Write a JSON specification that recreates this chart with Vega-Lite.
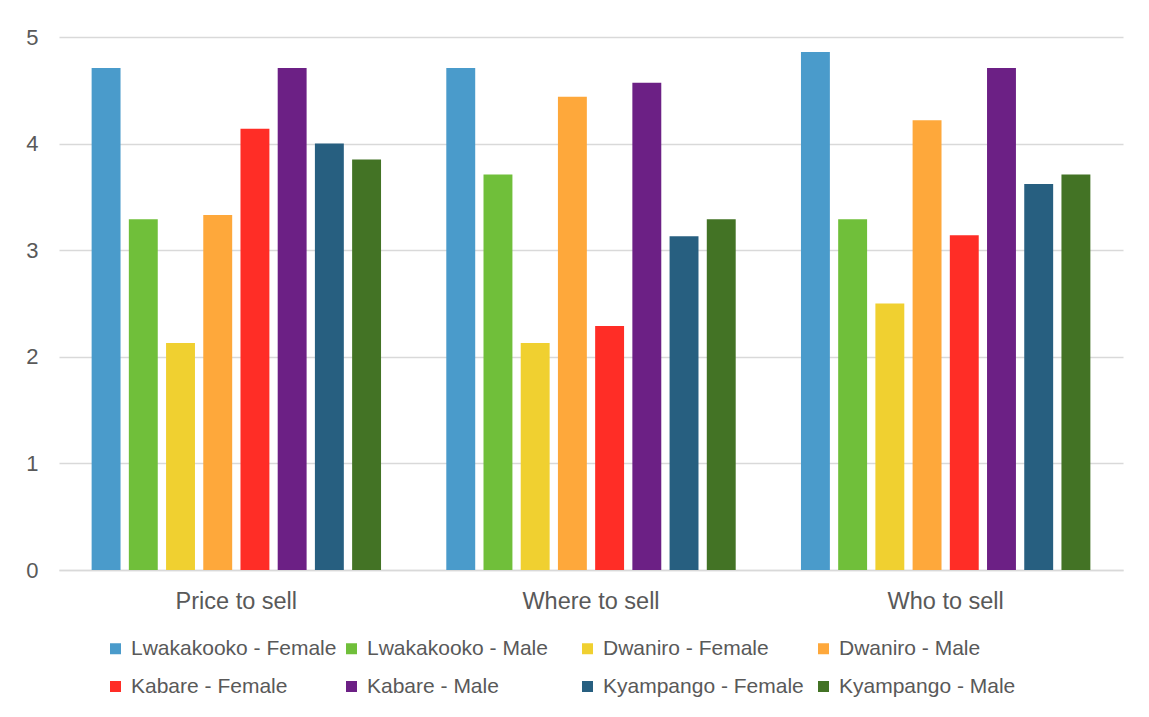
{
  "$schema": "https://vega.github.io/schema/vega-lite/v6.json",
  "autosize": {"type": "none"},
  "width": 1064,
  "height": 533,
  "padding": {"left": 59, "top": 37, "right": 26, "bottom": 147},
  "background": "white",
  "data": {
    "values": [
      {"question": "Price to sell", "group": "Lwakakooko - Female", "score": 4.71},
      {"question": "Price to sell", "group": "Lwakakooko - Male", "score": 3.29},
      {"question": "Price to sell", "group": "Dwaniro - Female", "score": 2.13},
      {"question": "Price to sell", "group": "Dwaniro - Male", "score": 3.33},
      {"question": "Price to sell", "group": "Kabare - Female", "score": 4.14},
      {"question": "Price to sell", "group": "Kabare - Male", "score": 4.71},
      {"question": "Price to sell", "group": "Kyampango - Female", "score": 4.0},
      {"question": "Price to sell", "group": "Kyampango - Male", "score": 3.85},
      {"question": "Where to sell", "group": "Lwakakooko - Female", "score": 4.71},
      {"question": "Where to sell", "group": "Lwakakooko - Male", "score": 3.71},
      {"question": "Where to sell", "group": "Dwaniro - Female", "score": 2.13},
      {"question": "Where to sell", "group": "Dwaniro - Male", "score": 4.44},
      {"question": "Where to sell", "group": "Kabare - Female", "score": 2.29},
      {"question": "Where to sell", "group": "Kabare - Male", "score": 4.57},
      {"question": "Where to sell", "group": "Kyampango - Female", "score": 3.13},
      {"question": "Where to sell", "group": "Kyampango - Male", "score": 3.29},
      {"question": "Who to sell", "group": "Lwakakooko - Female", "score": 4.86},
      {"question": "Who to sell", "group": "Lwakakooko - Male", "score": 3.29},
      {"question": "Who to sell", "group": "Dwaniro - Female", "score": 2.5},
      {"question": "Who to sell", "group": "Dwaniro - Male", "score": 4.22},
      {"question": "Who to sell", "group": "Kabare - Female", "score": 3.14},
      {"question": "Who to sell", "group": "Kabare - Male", "score": 4.71},
      {"question": "Who to sell", "group": "Kyampango - Female", "score": 3.62},
      {"question": "Who to sell", "group": "Kyampango - Male", "score": 3.71}
    ]
  },
  "mark": {"type": "bar"},
  "encoding": {
    "x": {
      "field": "question",
      "type": "nominal",
      "sort": ["Price to sell", "Where to sell", "Who to sell"],
      "scale": {"paddingInner": 0.184, "paddingOuter": 0.092},
      "axis": {
        "title": null,
        "labelAngle": 0,
        "labelFont": "Liberation Sans",
        "labelFontSize": 23.5,
        "labelColor": "#595959",
        "labelPadding": 19,
        "ticks": false,
        "tickSize": 0,
        "domain": true,
        "domainColor": "#D9D9D9",
        "domainWidth": 1.5,
        "grid": false
      }
    },
    "xOffset": {
      "field": "group",
      "type": "nominal",
      "sort": [
        "Lwakakooko - Female", "Lwakakooko - Male",
        "Dwaniro - Female", "Dwaniro - Male",
        "Kabare - Female", "Kabare - Male",
        "Kyampango - Female", "Kyampango - Male"
      ],
      "scale": {"paddingInner": 0.223, "paddingOuter": 0}
    },
    "y": {
      "field": "score",
      "type": "quantitative",
      "scale": {"domain": [0, 5], "nice": false},
      "axis": {
        "title": null,
        "values": [0, 1, 2, 3, 4, 5],
        "labelFont": "Liberation Sans",
        "labelFontSize": 22,
        "labelColor": "#595959",
        "labelPadding": 21,
        "ticks": false,
        "tickSize": 0,
        "domain": false,
        "grid": true,
        "gridColor": "#D9D9D9",
        "gridWidth": 1.5
      }
    },
    "color": {
      "field": "group",
      "type": "nominal",
      "sort": [
        "Lwakakooko - Female", "Lwakakooko - Male",
        "Dwaniro - Female", "Dwaniro - Male",
        "Kabare - Female", "Kabare - Male",
        "Kyampango - Female", "Kyampango - Male"
      ],
      "scale": {
        "domain": [
          "Lwakakooko - Female", "Lwakakooko - Male",
          "Dwaniro - Female", "Dwaniro - Male",
          "Kabare - Female", "Kabare - Male",
          "Kyampango - Female", "Kyampango - Male"
        ],
        "range": ["#4A9BCB", "#70BF3A", "#F0D030", "#FEA83B", "#FF2D26", "#6C2085", "#275F80", "#437325"]
      },
      "legend": {
        "title": null,
        "orient": "none",
        "legendX": 46,
        "legendY": 601,
        "direction": "horizontal",
        "columns": 4,
        "gridAlign": "all",
        "columnPadding": 4,
        "rowPadding": 16,
        "symbolType": "square",
        "symbolSize": 121,
        "symbolStrokeWidth": 0,
        "symbolOffset": 0,
        "labelOffset": 5,
        "labelFont": "Liberation Sans",
        "labelFontSize": 21,
        "labelColor": "#595959",
        "labelLimit": 0
      }
    }
  },
  "config": {
    "view": {"stroke": null}
  }
}
